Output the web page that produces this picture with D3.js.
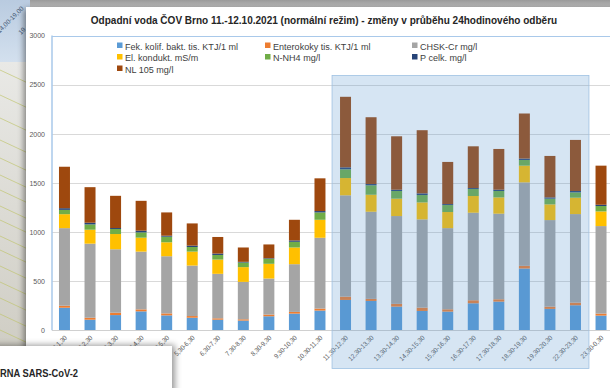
<!DOCTYPE html>
<html>
<head>
<meta charset="utf-8">
<script src="https://cdn.jsdelivr.net/npm/d3@7/dist/d3.min.js"></script>
<style>
  html, body { margin: 0; padding: 0; background: #ffffff; }
  svg { display: block; font-family: "Liberation Sans", Arial, sans-serif; }
</style>
</head>
<body>
<svg id="chart" width="610" height="388"></svg>
<script>
// Sampling intervals (hours, 11.–12. 10. 2021)
const categories = [
  "0,30-1,30", "1,30-2,30", "2,30-3,30", "3,30-4,30", "4,30-5,30", "5,30-6,30",
  "6,30-7,30", "7,30-8,30", "8,30-9,30", "9,30-10,30", "10,30-11,30", "11,30-12,30",
  "12,30-13,30", "13,30-14,30", "14,30-15,30", "15,30-16,30", "16,30-17,30",
  "17,30-18,30", "18,30-19,30", "19,30-20,30", "22,30-23,30", "23,30-0,30"
];

// Series values per interval
const fekKolif = [230, 108, 155, 193, 152, 128, 108, 99, 143, 170, 201, 309, 299, 241, 197, 190, 275, 292, 629, 218, 255, 150];
const enterokoky = [20, 20, 24, 20, 20, 17, 14, 13, 17, 17, 20, 34, 21, 28, 34, 24, 31, 24, 27, 23, 27, 20];
const chskCr = [790, 754, 646, 588, 582, 514, 453, 381, 367, 486, 721, 1031, 887, 894, 898, 826, 891, 871, 850, 881, 901, 891];
const elKondukt = [142, 142, 155, 142, 142, 142, 145, 150, 150, 170, 183, 176, 173, 177, 173, 164, 170, 166, 170, 160, 167, 149];
const nNH4 = [44, 54, 51, 54, 57, 47, 47, 47, 51, 58, 75, 89, 96, 78, 75, 71, 71, 65, 58, 58, 54, 55];
const pCelk = [17, 17, 10, 17, 10, 14, 14, 7, 6, 14, 14, 20, 13, 13, 17, 10, 10, 13, 14, 13, 14, 13];
const nl105 = [422, 362, 328, 304, 237, 226, 169, 146, 140, 210, 333, 718, 680, 544, 643, 429, 425, 415, 459, 422, 520, 398];

const seriesNames = [
  "Fek. kolif. bakt. tis. KTJ/1 ml", "Enterokoky tis. KTJ/1 ml", "CHSK-Cr mg/l",
  "El. kondukt. mS/m", "N-NH4 mg/l", "P celk. mg/l", "NL 105 mg/l"
];
const seriesValues = [fekKolif, enterokoky, chskCr, elKondukt, nNH4, pCelk, nl105];
const seriesColors = ["#5B9BD5", "#ED7D31", "#A5A5A5", "#FFC000", "#70AD47", "#264478", "#9E480E"];

const yTicks = [0, 500, 1000, 1500, 2000, 2500, 3000];
const titleText = "Odpadní voda ČOV Brno 11.-12.10.2021 (normální režim) - změny v průběhu 24hodinového odběru";
const highlightFrom = "11,30-12,30";
const highlightTo = "22,30-23,30";

const svg = d3.select("#chart");
const defs = svg.append("defs");

// narrow the default sans glyphs a little so the text runs like the slide font
function condense(sel, k) {
  sel.each(function () {
    const len = this.getComputedTextLength();
    d3.select(this).attr("textLength", len * k).attr("lengthAdjust", "spacingAndGlyphs");
  });
}

// ---------- slide background ----------
const topGrad = defs.append("linearGradient").attr("id", "topGrad").attr("x1", 0).attr("y1", 0).attr("x2", 0).attr("y2", 1);
topGrad.append("stop").attr("offset", "0%").attr("stop-color", "#9a9a9a");
topGrad.append("stop").attr("offset", "100%").attr("stop-color", "#d4d4d4");
svg.append("rect").attr("x", 0).attr("y", 0).attr("width", 610).attr("height", 12).attr("fill", "url(#topGrad)");

const blueGrad = defs.append("linearGradient").attr("id", "blueGrad").attr("x1", 0).attr("y1", 0).attr("x2", 0).attr("y2", 1);
blueGrad.append("stop").attr("offset", "0%").attr("stop-color", "#b9cbe0");
blueGrad.append("stop").attr("offset", "100%").attr("stop-color", "#d3e0ee");
svg.append("rect").attr("x", 0).attr("y", 0).attr("width", 30).attr("height", 62).attr("fill", "url(#blueGrad)");
svg.append("text").attr("transform", "translate(24,9) rotate(-45)").attr("text-anchor", "end")
  .attr("font-size", 6.5).attr("fill", "#4a5d78").text("14,00-19,00");
svg.append("text").attr("transform", "translate(26,30) rotate(-45)").attr("text-anchor", "end")
  .attr("font-size", 6.5).attr("fill", "#4a5d78").text("19");

const stripGrad = defs.append("linearGradient").attr("id", "stripGrad").attr("x1", 0).attr("y1", 0).attr("x2", 0).attr("y2", 1);
stripGrad.append("stop").attr("offset", "0%").attr("stop-color", "#e9e9e6");
stripGrad.append("stop").attr("offset", "100%").attr("stop-color", "#cfcdc4");
svg.append("rect").attr("x", 0).attr("y", 62).attr("width", 30).attr("height", 290).attr("fill", "url(#stripGrad)");
const stripLines = [70, 95, 118, 140, 158, 175, 190, 206, 220, 236, 250, 266, 282, 298, 314, 330];
svg.append("g").selectAll("line").data(stripLines).join("line")
  .attr("x1", 0).attr("x2", 30)
  .attr("y1", d => d).attr("y2", d => d + 14)
  .attr("stroke", "#bfc46a").attr("stroke-width", 0.8).attr("opacity", 0.8);

// ---------- chart panel ----------
const shadow = defs.append("filter").attr("id", "shadow").attr("x", "-10%").attr("y", "-10%").attr("width", "120%").attr("height", "120%");
shadow.append("feDropShadow").attr("dx", -2).attr("dy", 2).attr("stdDeviation", 3)
  .attr("flood-color", "#000").attr("flood-opacity", 0.45);
svg.append("rect").attr("x", 26).attr("y", 7).attr("width", 600).attr("height", 400)
  .attr("fill", "#ffffff").attr("filter", "url(#shadow)");

const x = d3.scaleBand().domain(categories).range([51.7, 613.8]).paddingInner(0.57).paddingOuter(0.285);
const y = d3.scaleLinear().domain([0, 3000]).range([330.3, 35.6]);

// gridlines
svg.append("g").selectAll("line").data(yTicks.filter(t => t > 0 && t < 3000)).join("line")
  .attr("x1", 52).attr("x2", 614)
  .attr("y1", d => Math.round(y(d)) + 0.5).attr("y2", d => Math.round(y(d)) + 0.5)
  .attr("stroke", "#d9d9d9").attr("stroke-width", 1);

// plot-area frame (left and top edges)
svg.append("line").attr("x1", 52).attr("x2", 614).attr("y1", Math.round(y(3000)) + 0.5).attr("y2", Math.round(y(3000)) + 0.5)
  .attr("stroke", "#a9c9ea").attr("stroke-width", 1.2);
svg.append("line").attr("x1", 52).attr("x2", 52).attr("y1", y(3000)).attr("y2", y(0))
  .attr("stroke", "#a9c9ea").attr("stroke-width", 1.5);

// y axis labels
const yAxis = d3.axisLeft(y).tickValues(yTicks).tickSize(0).tickPadding(0).tickFormat(d3.format("d"));
const yg = svg.append("g").attr("transform", "translate(45,0)").call(yAxis);
yg.select(".domain").remove();
yg.selectAll("text").attr("font-size", 7).attr("fill", "#595959").attr("font-family", "Liberation Sans, Arial, sans-serif");

// stacked bars
const rows = categories.map((c, i) => {
  const r = { cat: c };
  seriesNames.forEach((s, j) => { r[s] = seriesValues[j][i]; });
  return r;
});
const stacked = d3.stack().keys(seriesNames)(rows);
svg.append("g").selectAll("g").data(stacked).join("g")
  .attr("fill", (d, i) => seriesColors[i])
  .selectAll("rect").data(d => d).join("rect")
  .attr("x", d => x(d.data.cat))
  .attr("width", x.bandwidth())
  .attr("y", d => y(d[1]))
  .attr("height", d => y(d[0]) - y(d[1]));

// x axis baseline
svg.append("line").attr("x1", 52).attr("x2", 614).attr("y1", Math.round(y(0)) + 0.5).attr("y2", Math.round(y(0)) + 0.5)
  .attr("stroke", "#d0d0d0").attr("stroke-width", 1);

// x axis labels, rotated
const xl = svg.append("g").selectAll("text").data(categories).join("text")
  .attr("transform", d => `translate(${x(d) + x.bandwidth() / 2 + 3},${y(0) + 8}) rotate(-45)`)
  .attr("text-anchor", "end")
  .attr("font-size", 6.8).attr("fill", "#595959")
  .text(d => d);
condense(xl, 0.9);

// highlighted afternoon block
const hx0 = x(highlightFrom) + x.bandwidth() / 2 - x.step() / 2 - 0.7;
const hx1 = x(highlightTo) + x.bandwidth() / 2 + x.step() / 2 + 0.7;
svg.append("rect").attr("x", hx0).attr("y", 75.5).attr("width", hx1 - hx0).attr("height", 293)
  .attr("fill", "#5794ce").attr("fill-opacity", 0.245)
  .attr("stroke", "#9fc1e3").attr("stroke-width", 0.8);

// title: size the font so the line spans the panel's title width
const title = svg.append("text").attr("x", 324).attr("y", 23.5).attr("text-anchor", "middle")
  .attr("font-size", 11).attr("font-weight", "bold").attr("fill", "#262626").text(titleText);
const titleLen = title.node().getComputedTextLength();
title.attr("font-size", 11 * 467 / titleLen);

// legend (3 columns)
const legendCols = [117, 265, 412];
const legendRows = [47, 58.5, 70];
const lg = svg.append("g").selectAll("g").data(seriesNames).join("g")
  .attr("transform", (d, i) => `translate(${legendCols[i % 3]},${legendRows[Math.floor(i / 3)]})`);
lg.append("rect").attr("x", 0).attr("y", -4.5).attr("width", 5.5).attr("height", 5.5)
  .attr("fill", (d, i) => seriesColors[i]);
const lt = lg.append("text").attr("x", 8).attr("y", 2.5).attr("font-size", 9.2).attr("fill", "#404040").text(d => d);
// scale the legend run so the first entry spans the same width as the slide font
const firstLen = lt.node().getComputedTextLength();
condense(lt, 113 / firstLen);

// ---------- overlapping text box in the lower left ----------
const boxShadow = defs.append("filter").attr("id", "boxShadow").attr("x", "-10%").attr("y", "-30%").attr("width", "130%").attr("height", "160%");
boxShadow.append("feDropShadow").attr("dx", 3).attr("dy", -1).attr("stdDeviation", 3)
  .attr("flood-color", "#000").attr("flood-opacity", 0.4);
svg.append("rect").attr("x", -20).attr("y", 346).attr("width", 192).attr("height", 60)
  .attr("fill", "#ffffff").attr("filter", "url(#boxShadow)");
const rna = svg.append("text").attr("x", 0).attr("y", 377).attr("font-size", 11.5)
  .attr("font-weight", "bold").attr("fill", "#262626").text("RNA SARS-CoV-2");
rna.attr("textLength", 78).attr("lengthAdjust", "spacingAndGlyphs");
</script>
</body>
</html>
